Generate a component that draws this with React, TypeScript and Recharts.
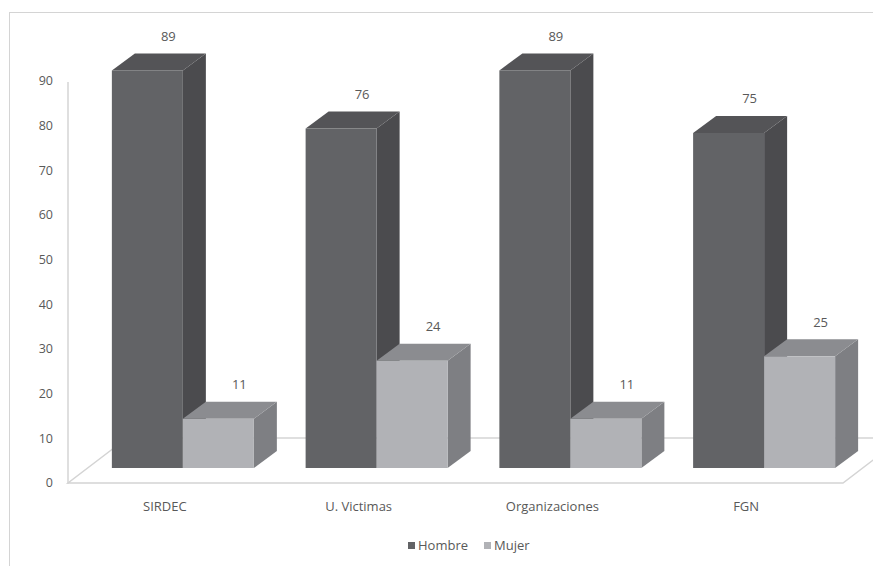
import React from 'react';
import { BarChart, Bar, XAxis, YAxis, Legend, LabelList } from 'recharts';

// Values per institution
const categories = ['SIRDEC', 'U. Victimas', 'Organizaciones', 'FGN'];
const hombreValues = [89, 76, 89, 75];
const mujerValues = [11, 24, 11, 25];
const yTicks = [0, 10, 20, 30, 40, 50, 60, 70, 80, 90];
const seriesNames = { hombre: 'Hombre', mujer: 'Mujer' };

const data = categories.map((name, i) => ({
  name,
  hombre: hombreValues[i],
  mujer: mujerValues[i],
}));

// Chart geometry
const W = 873;
const H = 566;
const PLOT = { left: 68, right: 843, top: 82, bottom: 484 };
const Y_AXIS_W = 60;
const X_AXIS_H = 30;
const LEGEND_H = 20;
// bars stand a little behind the front edge of the floor
const FRONT = { dx: 18, dy: -16 };
// depth of each box
const DEPTH = { dx: 23, dy: -17 };
// depth of the floor
const FLOOR = { dx: 59, dy: -45 };

const FONT = '"Open Sans", "DejaVu Sans", sans-serif';
const TEXT = '#595959';
const GRID = '#d4d4d4';

const COLORS = {
  hombre: { front: '#626366', side: '#4b4b4e', top: '#545457' },
  mujer: { front: '#b1b2b6', side: '#7e7f83', top: '#8b8c90' },
};

const pts = (arr: number[][]) => arr.map((p) => p.join(',')).join(' ');

const makeBox = (c: { front: string; side: string; top: string }) => (props: any) => {
  const { x, y, width: w, height: h } = props;
  if (w == null || h == null) return null;
  const fx = x + FRONT.dx;
  const fy = y + FRONT.dy;
  const side = pts([
    [fx + w, fy],
    [fx + w + DEPTH.dx, fy + DEPTH.dy],
    [fx + w + DEPTH.dx, fy + h + DEPTH.dy],
    [fx + w, fy + h],
  ]);
  const top = pts([
    [fx, fy],
    [fx + DEPTH.dx, fy + DEPTH.dy],
    [fx + w + DEPTH.dx, fy + DEPTH.dy],
    [fx + w, fy],
  ]);
  return (
    <g>
      <polygon points={side} fill={c.side} />
      <polygon points={top} fill={c.top} />
      <rect x={fx} y={fy} width={w} height={h} fill={c.front} />
    </g>
  );
};

const ValueLabel = (props: any) => {
  const { x, y, width: w, value } = props;
  return (
    <text
      x={x + FRONT.dx + w / 2 + 21}
      y={y + FRONT.dy + DEPTH.dy - 16}
      textAnchor="middle"
      dominantBaseline="middle"
      fontFamily={FONT}
      fontSize={13}
      fill={TEXT}
    >
      {value}
    </text>
  );
};

const Floor = () => (
  <g fill="none" stroke={GRID} strokeWidth={1.5}>
    <polyline
      points={pts([
        [PLOT.left + FLOOR.dx, PLOT.bottom - 1 + FLOOR.dy],
        [PLOT.left, PLOT.bottom - 1],
        [PLOT.right, PLOT.bottom - 1],
        [PLOT.right + FLOOR.dx, PLOT.bottom - 1 + FLOOR.dy],
      ])}
    />
    <line
      x1={PLOT.left + FLOOR.dx}
      y1={PLOT.bottom - 1 + FLOOR.dy}
      x2={PLOT.right + FLOOR.dx}
      y2={PLOT.bottom - 1 + FLOOR.dy}
    />
  </g>
);

const YTick = (props: any) => {
  const { y, payload } = props;
  return (
    <text
      x={PLOT.left - 15}
      y={y}
      textAnchor="end"
      dominantBaseline="middle"
      fontFamily={FONT}
      fontSize={12.5}
      fill={TEXT}
    >
      {payload.value}
    </text>
  );
};

const XTick = (props: any) => {
  const { x, payload } = props;
  return (
    <text
      x={x}
      y={PLOT.bottom + 24}
      textAnchor="middle"
      dominantBaseline="middle"
      fontFamily={FONT}
      fontSize={13}
      fill={TEXT}
    >
      {payload.value}
    </text>
  );
};

const LegendContent = () => (
  <div
    style={{
      display: 'flex',
      alignItems: 'center',
      height: LEGEND_H,
      paddingLeft: 408,
      fontFamily: FONT,
      fontSize: 13,
      color: TEXT,
    }}
  >
    <span style={{ width: 7, height: 7, background: COLORS.hombre.front, marginRight: 3 }} />
    <span style={{ marginRight: 16 }}>{seriesNames.hombre}</span>
    <span style={{ width: 7, height: 7, background: COLORS.mujer.front, marginRight: 3 }} />
    <span>{seriesNames.mujer}</span>
  </div>
);

export default function App() {
  return (
    <div style={{ position: 'absolute', left: 0, top: 0, width: W, height: H, overflow: 'hidden', background: '#fff' }}>
      <div
        style={{
          position: 'absolute',
          left: 9,
          top: 12,
          width: W + 20,
          height: H + 20,
          borderLeft: `1.5px solid ${GRID}`,
          borderTop: `1.5px solid ${GRID}`,
        }}
      />
      <div style={{ position: 'absolute', left: 0, top: 0 }}>
        <BarChart
          width={W}
          height={H}
          data={data}
          margin={{
            top: PLOT.top,
            right: W - PLOT.right,
            left: PLOT.left - Y_AXIS_W,
            bottom: H - PLOT.bottom - X_AXIS_H - LEGEND_H,
          }}
          barCategoryGap="13.35%"
          barGap={0}
        >
          <Floor />
          <XAxis
            dataKey="name"
            height={X_AXIS_H}
            axisLine={false}
            tickLine={false}
            tick={<XTick />}
            interval={0}
          />
          <YAxis
            width={Y_AXIS_W}
            domain={[0, 90]}
            ticks={yTicks}
            interval={0}
            axisLine={{ stroke: GRID, strokeWidth: 1.5 }}
            tickLine={false}
            tick={<YTick />}
          />
          <Legend
            verticalAlign="bottom"
            height={LEGEND_H}
            wrapperStyle={{ top: 535, left: 0, width: W }}
            content={() => <LegendContent />}
          />
          <Bar dataKey="hombre" name={seriesNames.hombre} shape={makeBox(COLORS.hombre)} isAnimationActive={false}>
            <LabelList dataKey="hombre" content={<ValueLabel />} />
          </Bar>
          <Bar dataKey="mujer" name={seriesNames.mujer} shape={makeBox(COLORS.mujer)} isAnimationActive={false}>
            <LabelList dataKey="mujer" content={<ValueLabel />} />
          </Bar>
        </BarChart>
      </div>
    </div>
  );
}
